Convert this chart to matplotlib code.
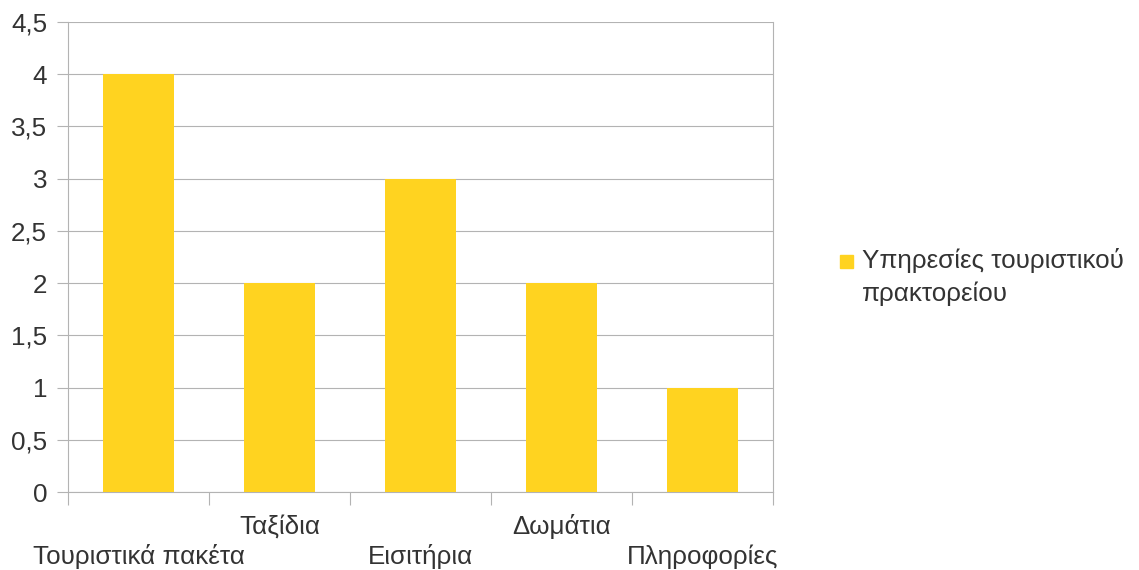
import matplotlib.pyplot as plt
from matplotlib.patches import Rectangle
import numpy as np

plt.rcParams['font.family'] = ['Liberation Sans', 'DejaVu Sans']

categories = ['Τουριστικά πακέτα', 'Ταξίδια', 'Εισιτήρια', 'Δωμάτια', 'Πληροφορίες']
values = [4, 2, 3, 2, 1]
series_name = 'Υπηρεσίες τουριστικού\nπρακτορείου'
y_ticks = [0, 0.5, 1, 1.5, 2, 2.5, 3, 3.5, 4, 4.5]

bar_color = '#ffd320'
grid_color = '#b3b3b3'
text_color = '#333333'
font_size = 18.7
W, H = 1139, 570

fig = plt.figure(figsize=(W / 100, H / 100), dpi=100)
ax = fig.add_axes([68 / W, (H - 492) / H, (773 - 68) / W, (492 - 22) / H])

x = np.arange(len(categories))
ax.bar(x, values, width=0.5, color=bar_color, zorder=3)

ax.set_xlim(-0.5, len(categories) - 0.5)
ax.set_ylim(0, 4.5)

# y axis: gridlines plus short outward ticks
ax.set_yticks(y_ticks)
ax.set_yticklabels([f'{t:g}'.replace('.', ',') for t in y_ticks])
ax.yaxis.grid(True, color=grid_color, linewidth=0.8, zorder=0)
ax.tick_params(axis='y', length=8, width=0.8, color=grid_color, pad=7,
               labelsize=font_size, labelcolor=text_color)

# x axis: ticks on category boundaries, staggered labels at centres
ax.set_xticks(np.arange(-0.5, len(categories)), minor=True)
ax.set_xticks(x)
labels = [c if i % 2 else '\n' + c for i, c in enumerate(categories)]
ax.set_xticklabels(labels, linespacing=1.3)
ax.tick_params(axis='x', which='major', length=0, pad=16,
               labelsize=font_size, labelcolor=text_color)
ax.tick_params(axis='x', which='minor', length=9, width=0.8, color=grid_color)

ax.spines['top'].set_visible(False)
for side in ('left', 'right', 'bottom'):
    ax.spines[side].set_color(grid_color)
    ax.spines[side].set_linewidth(0.8)

# legend: square key next to the first line of a two-line label
fig.add_artist(Rectangle((840 / W, 1 - 268 / H), 13 / W, 13 / H,
                         transform=fig.transFigure, color=bar_color))
fig.text(862 / W, 1 - 248 / H, series_name, fontsize=font_size,
         color=text_color, va='top', linespacing=1.45)

fig.savefig('out.png', dpi=100)
